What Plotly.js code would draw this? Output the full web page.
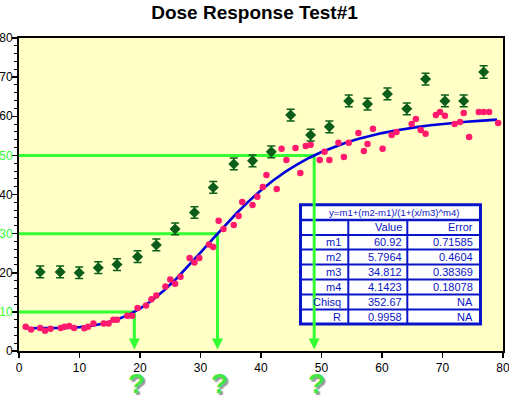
<!DOCTYPE html>
<html>
<head>
<meta charset="utf-8">
<script src="https://cdn.plot.ly/plotly-3.0.1.min.js"></script>
<style>html,body{margin:0;padding:0;background:#fff;}#chart{width:509px;height:398px;}</style>
</head>
<body>
<div id="chart"></div>
<script>
// ---- data ----
const pinkX = [1.1,2.0,3.5,4.3,5.2,6.9,7.5,8.3,9.1,10.8,11.4,12.3,14.0,14.8,15.6,16.2,17.9,18.7,19.6,21.0,21.9,22.7,24.2,25.0,25.8,26.7,28.2,29.0,29.8,31.4,32.1,33.0,33.8,35.5,36.3,36.9,38.6,39.4,40.3,40.9,42.6,43.4,44.2,45.7,46.5,47.4,48.2,49.7,50.5,51.3,52.8,53.7,54.5,56.1,57.0,57.6,58.5,60.1,61.6,62.4,64.9,65.6,66.4,67.2,68.9,69.6,70.4,72.0,72.9,73.5,74.4,76.0,76.8,77.7,79.2];
const pinkY = [6.2,5.5,5.9,5.2,5.7,5.9,6.2,6.4,5.9,5.8,6.2,7.0,7.0,7.0,8.0,8.0,9.0,9.0,11.0,11.6,13.2,14.2,16.5,18.3,17.2,19.0,23.8,22.6,23.8,27.2,26.6,33.3,31.2,32.2,34.5,38.1,37.3,39.4,41.9,45.0,41.4,51.7,48.8,51.9,45.5,52.4,52.7,48.8,50.9,48.8,53.2,49.6,53.2,55.7,51.1,52.9,56.8,51.7,55.2,56.0,58.0,59.3,56.5,55.5,60.3,61.1,60.1,58.0,58.5,60.8,54.7,61.1,61.1,61.1,58.3];

const greenX = [3.5,6.8,9.95,13.1,16.2,19.6,22.7,25.8,29.0,32.1,35.5,38.6,41.7,44.9,48.2,51.3,54.5,57.6,60.9,64.1,67.2,70.4,73.5,76.8];
const greenY = [20.2,20.2,20.0,21.3,22.1,24.1,27.1,31.2,35.4,41.8,47.8,48.6,50.9,60.3,55.2,57.3,63.9,63.1,65.7,61.9,69.5,63.9,63.9,71.3];
const greenErr = [1.5,1.5,1.5,1.5,1.5,1.5,1.5,1.5,1.5,1.5,1.5,1.5,1.5,1.5,1.5,1.5,1.5,1.5,1.5,1.5,1.5,1.5,1.5,1.6];

const fitX = [1,2,4,6,8,10,12,14,16,18,20,22,24,26,28,30,32,34,36,38,40,42,44,46,48,50,52,54,56,58,60,62,64,66,68,70,72,74,76,78,79];
const fitY = [5.80,5.80,5.80,5.83,5.92,6.11,6.46,7.04,7.91,9.17,10.84,12.96,15.53,18.47,21.71,25.13,28.60,32.02,35.27,38.31,41.08,43.57,45.77,47.71,49.40,50.86,52.13,53.23,54.17,54.98,55.69,56.30,56.83,57.28,57.68,58.03,58.33,58.60,58.83,59.04,59.13];

const levelY = [10, 30, 50];
const levelX = [19.07, 32.81, 48.79];

const yTickVals = [0,10,20,30,40,50,60,70,80];
const yTickText = ['0','10','20','30','40','50','60','70','80'];
const yGreenTicks = [10,30,50];

const tableTitle = 'y=m1+(m2-m1)/(1+(x/m3)^m4)';
const colHeaders = ['', 'Value', 'Error'];
const paramNames = ['m1','m2','m3','m4','Chisq','R'];
const paramValues = ['60.92','5.7964','34.812','4.1423','352.67','0.9958'];
const paramErrors = ['0.71585','0.4604','0.38369','0.18078','NA','NA'];

// ---- styling ----
const W = 509, H = 398;
const M = {l:19, r:6, t:38, b:47};
const PW = W - M.l - M.r, PH = H - M.t - M.b;
const fx = px => (px - M.l) / PW;        // pixel -> paper x
const fy = py => (H - M.b - py) / PH;    // pixel -> paper y
const FONT = 'Liberation Sans, Arial, Helvetica, sans-serif';
const LG = '#33ff33';
const BLUE_T = '#0a14c8';

const traces = [];
levelY.forEach((ly, i) => {
  traces.push({x:[0, levelX[i], levelX[i]], y:[ly, ly, 2], mode:'lines',
    line:{color:LG, width:3}, hoverinfo:'skip', cliponaxis:false});
});
traces.push({x: levelX, y: levelX.map(() => 0.4), mode:'markers',
  marker:{symbol:'arrow-down', size:11, color:LG, line:{width:0}}, cliponaxis:false, hoverinfo:'skip'});
traces.push({x: fitX, y: fitY, mode:'lines', line:{color:'#0000dd', width:2.6}, hoverinfo:'skip'});
traces.push({x: pinkX, y: pinkY, mode:'markers', marker:{symbol:'circle', size:6.5, color:'#ff1a6e', line:{width:0}}});
traces.push({x: greenX, y: greenY, mode:'markers',
  marker:{symbol:'diamond', size:8.5, color:'#0b5e1a', line:{width:0}},
  error_y:{type:'data', array: greenErr, visible:true, color:'#0b5e1a', thickness:1.5, width:4}});

// table
const tL = 300.5, tR = 480.5, tT = 204.7, tB = 324;
const hLines = [220, 235, 249.5, 264.5, 279.5, 294.5, 309.5];
const vLines = [348.3, 407.3];
const shapes = [];
shapes.push({type:'rect', xref:'paper', yref:'paper', x0:fx(tL), x1:fx(tR), y0:fy(tB), y1:fy(tT),
  fillcolor:'#ffffff', line:{color:BLUE_T, width:3}, layer:'below'});
hLines.forEach((h, i) => shapes.push({type:'line', xref:'paper', yref:'paper', x0:fx(tL), x1:fx(tR), y0:fy(h), y1:fy(h),
  line:{color:BLUE_T, width: i === 0 ? 2.5 : 2}, layer:'below'}));
vLines.forEach(v => shapes.push({type:'line', xref:'paper', yref:'paper', x0:fx(v), x1:fx(v), y0:fy(220), y1:fy(tB),
  line:{color:BLUE_T, width:2}, layer:'below'}));

const annotations = [];
const tf = {family: FONT, size: 11, color: BLUE_T};
annotations.push({xref:'paper', yref:'paper', x:fx(394.5), y:fy(212), text:tableTitle, showarrow:false,
  xanchor:'center', yanchor:'middle', font:{family: FONT, size: 9.6, color: BLUE_T}});
const colRight = [343, 403.5, 474.5];
const rowCenters = [227.5, 242.3, 257.3, 272.3, 287.3, 302.3, 317.3];
colHeaders.forEach((t, c) => { if (t) annotations.push({xref:'paper', yref:'paper', x:fx(colRight[c]), y:fy(rowCenters[0]), text:t,
  showarrow:false, xanchor:'right', yanchor:'middle', font:tf}); });
paramNames.forEach((n, r) => {
  [n, paramValues[r], paramErrors[r]].forEach((t, c) => annotations.push({xref:'paper', yref:'paper', x:fx(colRight[c]),
    y:fy(rowCenters[r+1]), text:t, showarrow:false, xanchor:'right', yanchor:'middle', font:tf}));
});
// question marks
levelX.forEach(lx => annotations.push({xref:'x', yref:'paper', x:lx, xshift:2, y:fy(383.5),
  text:'?', showarrow:false, xanchor:'center', yanchor:'middle',
  font:{family: FONT, size:28, weight:'bold', color:'#3ee83e', shadow:'2px 2px 1px #9a9a9a'}}));

const layout = {
  width: W, height: H,
  margin: M,
  paper_bgcolor:'#ffffff', plot_bgcolor:'#ffffc6',
  showlegend:false,
  title:{text:'<b>Dose Response Test#1</b>', x:0.5, xref:'container', xanchor:'center',
    y: 1 - 12/H, yref:'container', yanchor:'middle', font:{family: FONT, size:19, color:'#000'}},
  font:{family: FONT, size:12, color:'#000'},
  xaxis:{range:[0,80], tickmode:'linear', tick0:0, dtick:10, ticks:'outside', ticklen:5, tickwidth:1.5, tickcolor:'#000',
    showline:true, linewidth:2, linecolor:'#000', mirror:true, showgrid:false, zeroline:false, ticklabeloverflow:'allow',
    tickfont:{family: FONT, size:12, color:'#000'}, fixedrange:true},
  yaxis:{range:[0,80], tickmode:'array', tickvals:yTickVals,
    ticktext: yTickText.map((t, i) => yGreenTicks.includes(yTickVals[i]) ? '<span style="color:' + LG + '">' + t + '</span>' : t),
    ticks:'outside', ticklen:5, tickwidth:1.5, tickcolor:'#000',
    minor:{dtick:2, tick0:0, ticks:'outside', ticklen:3, tickwidth:1, tickcolor:'#000', showgrid:false},
    showline:true, linewidth:2, linecolor:'#000', mirror:true, showgrid:false, zeroline:false, ticklabelstandoff:-3,
    ticklabeloverflow:'allow', tickfont:{family: FONT, size:12, color:'#000'}, fixedrange:true},
  shapes: shapes,
  annotations: annotations
};

Plotly.newPlot('chart', traces, layout, {staticPlot:true, displayModeBar:false});
</script>
</body>
</html>
